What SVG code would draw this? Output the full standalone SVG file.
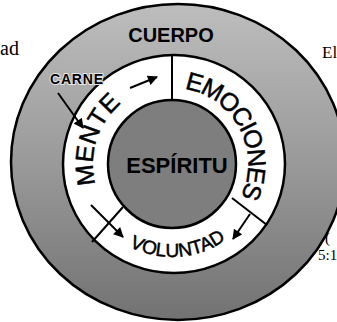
<svg xmlns="http://www.w3.org/2000/svg" width="337" height="322" viewBox="0 0 337 322">
<defs>
<linearGradient id="outerFill" x1="0" y1="0" x2="0" y2="1">
<stop offset="0" stop-color="#bdbdbd"/>
<stop offset="0.5" stop-color="#9a9a9a"/>
<stop offset="1" stop-color="#727272"/>
</linearGradient>
<marker id="arrow" viewBox="0 0 10 10" refX="9" refY="5" markerWidth="11" markerHeight="10" markerUnits="userSpaceOnUse" orient="auto">
<path d="M0,0 L10,5 L0,10 z" fill="#000"/>
</marker>
<path id="pMente" d="M100.6,197.8 A79,79 0 0,1 133.7,94.9"/>
<path id="pEmo" d="M161.4,88.7 A76,76 0 0,1 228.5,214.9"/>
<path id="pVol" d="M94.9,216 A93,93 0 0,0 255.6,204.8"/>
</defs>
<style>
.ring{stroke:#000;stroke-width:2.5}
.sans{font-family:"Liberation Sans",Arial,sans-serif;fill:#000}
.serif{font-family:"Liberation Serif","Times New Roman",serif;fill:#000}
.bold{font-weight:bold}
.conn{stroke:#000;stroke-width:2;fill:none}
.arc{stroke:#000;stroke-width:0.5}
</style>
<rect width="337" height="322" fill="#fff"/>
<g id="cuerpo">
<ellipse class="ring" cx="178" cy="162" rx="167" ry="158" fill="url(#outerFill)"/>
<text class="sans bold" x="171" y="42" font-size="20" text-anchor="middle">CUERPO</text>
</g>
<g id="alma">
<ellipse class="ring" cx="174" cy="164" rx="111" ry="109" fill="#fff"/>
</g>
<g id="espiritu">
<circle class="ring" cx="172" cy="164" r="64" fill="#7e7e7e"/>
<text class="sans bold" x="177" y="173" font-size="22" text-anchor="middle">ESPÍRITU</text>
</g>
<g id="connectors">
<line class="conn" x1="172" y1="54" x2="172" y2="100"/>
<line class="conn" x1="123" y1="207" x2="92" y2="242"/>
<line class="conn" x1="232" y1="198" x2="267" y2="225"/>
<line class="conn" x1="58" y1="93" x2="83" y2="128" marker-end="url(#arrow)"/>
<line class="conn" x1="130" y1="88" x2="157" y2="77" marker-end="url(#arrow)"/>
<line class="conn" x1="91" y1="205" x2="123" y2="237" marker-end="url(#arrow)"/>
<line class="conn" x1="250" y1="214" x2="233" y2="239" marker-end="url(#arrow)"/>
</g>
<g id="carne">
<text class="sans bold" x="50" y="84" font-size="14" textLength="53" stroke="#e6e6e6" stroke-width="2" paint-order="stroke">CARNE</text>
</g>
<g id="mente">
<text class="sans arc" font-size="25" letter-spacing="0.5"><textPath href="#pMente" startOffset="50%" text-anchor="middle">MENTE</textPath></text>
</g>
<g id="emociones">
<text class="sans arc" font-size="25" letter-spacing="-1.5"><textPath href="#pEmo" startOffset="50%" text-anchor="middle">EMOCIONES</textPath></text>
</g>
<g id="voluntad">
<text class="sans arc" font-size="19"><textPath href="#pVol" startOffset="50%" text-anchor="middle">VOLUNTAD</textPath></text>
</g>
<g id="margin">
<text class="serif" x="0" y="55" font-size="20">ad</text>
<text class="serif" x="322" y="58" font-size="17">El</text>
<text class="serif" x="325" y="243" font-size="15">(</text>
<text class="serif" x="318" y="260" font-size="15">5:1</text>
</g>
</svg>
